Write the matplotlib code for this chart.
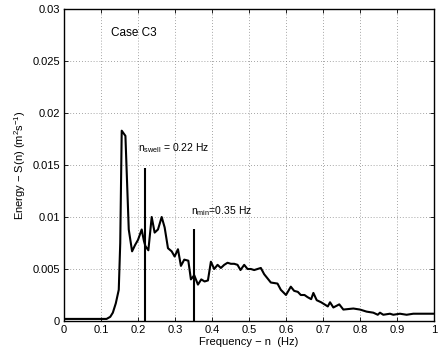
import matplotlib
matplotlib.use("Agg")
import matplotlib.pyplot as plt
from matplotlib.ticker import FixedLocator

plt.rcParams['font.family'] = ['Liberation Sans', 'DejaVu Sans']
plt.rcParams['mathtext.fontset'] = 'custom'
plt.rcParams['mathtext.rm'] = 'Liberation Sans'
plt.rcParams['mathtext.it'] = 'Liberation Sans'

freq = [0.0, 0.02, 0.05, 0.08, 0.10, 0.115, 0.125, 0.132, 0.14, 0.148, 0.152, 0.156,
        0.166, 0.175, 0.184, 0.192, 0.2, 0.205, 0.21, 0.216, 0.22, 0.228, 0.237,
        0.245, 0.254, 0.264, 0.272, 0.281, 0.291, 0.299, 0.308, 0.316, 0.325,
        0.336, 0.343, 0.352, 0.362, 0.371, 0.38, 0.389, 0.397, 0.406, 0.415,
        0.424, 0.433, 0.442, 0.451, 0.46, 0.469, 0.477, 0.487, 0.496, 0.505,
        0.514, 0.532, 0.541, 0.559, 0.577, 0.586, 0.6, 0.613, 0.622, 0.632,
        0.64, 0.65, 0.658, 0.668, 0.674, 0.683, 0.695, 0.704, 0.713, 0.719,
        0.728, 0.744, 0.755, 0.782, 0.8, 0.818, 0.836, 0.848, 0.854, 0.863,
        0.881, 0.89, 0.908, 0.926, 0.944, 0.97, 0.998]
energy = [0.0002, 0.0002, 0.0002, 0.0002, 0.0002, 0.0002, 0.0004, 0.0008, 0.0017, 0.003,
          0.0075, 0.0183, 0.0178, 0.0088, 0.0067, 0.0073, 0.0078, 0.0083, 0.0088,
          0.0077, 0.0072, 0.0068, 0.0100, 0.0085, 0.0088, 0.0100, 0.0090, 0.0070,
          0.0067, 0.0062, 0.0069, 0.0053, 0.0059, 0.0058, 0.0040, 0.0044, 0.0035,
          0.0040, 0.0038, 0.0039, 0.0057, 0.0050, 0.0054, 0.0051, 0.0054, 0.0056,
          0.0055, 0.0055, 0.0054, 0.0049, 0.0054, 0.0050, 0.0050, 0.0049, 0.0051,
          0.0045, 0.0037, 0.0036, 0.0030, 0.0025, 0.0033, 0.0029, 0.0028, 0.0025,
          0.0025, 0.0023, 0.0021, 0.0027, 0.0020, 0.0018, 0.0016, 0.0014, 0.0018,
          0.0013, 0.0016, 0.0011, 0.0012, 0.0011, 0.0009, 0.0008, 0.0006, 0.0008,
          0.0006, 0.0007, 0.0006, 0.0007, 0.0006, 0.0007, 0.0007, 0.0007]

marker_freq = [0.22, 0.35]
marker_height = [0.0147, 0.0088]

xticks = [0, 0.1, 0.2, 0.3, 0.4, 0.5, 0.6, 0.7, 0.8, 0.9, 1]
xticklabels = ['0', '0.1', '0.2', '0.3', '0.4', '0.5', '0.6', '0.7', '0.8', '0.9', '1']
yticks = [0, 0.005, 0.01, 0.015, 0.02, 0.025, 0.03]
yticklabels = ['0', '0.005', '0.01', '0.015', '0.02', '0.025', '0.03']

fig = plt.figure(figsize=(4.45, 3.52), dpi=100)
ax = fig.add_axes([64/445, 1-321/352, 370/445, 312/352])

ax.plot(freq, energy, color='black', lw=1.5)
ax.vlines(marker_freq, 0, marker_height, color='black', lw=1.5)

ax.set_xlim(0, 1)
ax.set_ylim(0, 0.03)
ax.xaxis.set_major_locator(FixedLocator(xticks))
ax.yaxis.set_major_locator(FixedLocator(yticks))
ax.set_xticklabels(xticklabels)
ax.set_yticklabels(yticklabels)
ax.tick_params(direction='in', length=3, width=0.6, labelsize=8, top=True, right=True, pad=3)
ax.grid(True, linestyle=(0, (1, 2.5)), color='#888888', lw=0.6)
for s in ax.spines.values():
    s.set_linewidth(1.0)

ax.text(0.127, 0.0277, 'Case C3', fontsize=8.5, va='center', ha='left')
ax.text(0.2, 0.0166, r'n$_{\mathregular{swell}}$ = 0.22 Hz', fontsize=7.5, va='center', ha='left')
ax.text(0.342, 0.0106, r'n$_{\mathregular{min}}$=0.35 Hz', fontsize=7.5, va='center', ha='left')

ax.set_xlabel('Frequency − n  (Hz)', fontsize=8, labelpad=1)
ax.set_ylabel(r'Energy − S(n) (m$^{\mathregular{2}}$s$^{\mathregular{-1}}$)', fontsize=8, labelpad=3)

fig.savefig('out.png', dpi=100)
